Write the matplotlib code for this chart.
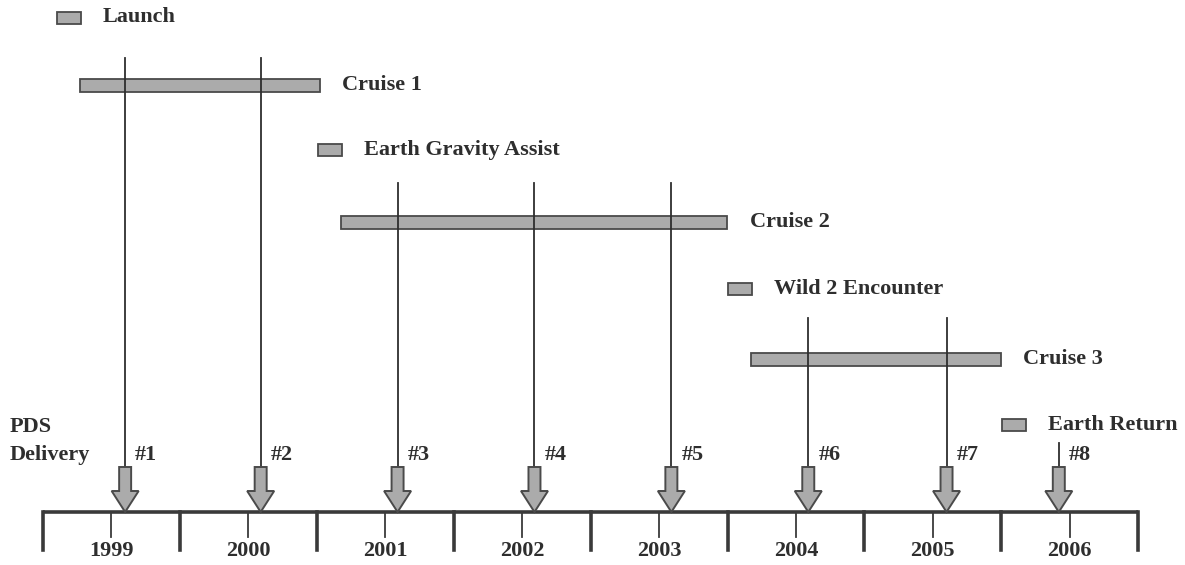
import matplotlib.pyplot as plt
from matplotlib.patches import Rectangle, Polygon

# data (years)
years = [1999, 2000, 2001, 2002, 2003, 2004, 2005, 2006]
cruise_names = ["Cruise 1", "Cruise 2", "Cruise 3"]
cruise_start = [1998.77, 2000.68, 2003.67]
cruise_end = [2000.52, 2003.50, 2005.50]
event_names = ["Launch", "Earth Gravity Assist", "Wild 2 Encounter", "Earth Return"]
event_dates = [1998.69, 2000.60, 2003.59, 2005.59]
delivery_labels = ["#1", "#2", "#3", "#4", "#5", "#6", "#7", "#8"]
delivery_dates = [1999.10, 2000.09, 2001.09, 2002.09, 2003.09, 2004.09, 2005.10, 2005.92]

# layout (pixel rows, top = 0)
cruise_y = [85.5, 222, 359]
event_y = [17.5, 150, 288.5, 425]
line_top = [58, 58, 183, 183, 183, 318, 318, 443]
axis_y = 512

px = 1 / 136.9   # one pixel in years
fill = "#ababab"
edge = "#4a4a4a"
ink = "#2e2e2e"
font = dict(family="Liberation Serif", weight="bold", size=16, color=ink)

fig = plt.figure(figsize=(11.85, 5.65), dpi=100)
ax = fig.add_axes([0, 0, 1, 1])
ax.set_xlim(1998.5 - 43 * px, 1998.5 + 1142 * px)
ax.set_ylim(565, 0)
ax.axis("off")

# cruise bars
for name, s, e, y in zip(cruise_names, cruise_start, cruise_end, cruise_y):
    ax.add_patch(Rectangle((s, y - 6.5), e - s, 13, facecolor=fill, edgecolor=edge, lw=1.3, zorder=2))
    ax.text(e + 22 * px, y, name, va="center", ha="left", **font)

# event markers
for name, d, y in zip(event_names, event_dates, event_y):
    w = 24 * px
    ax.add_patch(Rectangle((d - w / 2, y - 6), w, 12, facecolor=fill, edgecolor=edge, lw=1.3, zorder=2))
    ax.text(d + w / 2 + 22 * px, y, name, va="center", ha="left", **font)

# delivery arrows
for lab, d, top in zip(delivery_labels, delivery_dates, line_top):
    ax.plot([d, d], [top, 467], color=ink, lw=1.3, zorder=3)
    sw, hw = 6 * px, 13.5 * px
    pts = [(d - sw, 467), (d + sw, 467), (d + sw, 491), (d + hw, 491),
           (d, axis_y), (d - hw, 491), (d - sw, 491)]
    ax.add_patch(Polygon(pts, closed=True, facecolor=fill, edgecolor=edge, lw=1.4, zorder=4))
    ax.text(d + 10 * px, 455, lab, va="center", ha="left", **font)

# time axis
ax.plot([1998.5, 2006.5], [axis_y, axis_y], color="#3a3a3a", lw=2.6, solid_capstyle="butt", zorder=3)
for k in range(len(years) + 1):
    t = years[0] - 0.5 + k
    ax.plot([t, t], [axis_y, 550], color="#3a3a3a", lw=2.6, zorder=3)
for yr in years:
    ax.plot([yr, yr], [axis_y, 537], color="#3a3a3a", lw=1.3, zorder=3)
    ax.text(yr, 551, str(yr), ha="center", va="center", **font)

ax.text(10 * px + ax.get_xlim()[0], 427, "PDS", ha="left", va="center", **font)
ax.text(10 * px + ax.get_xlim()[0], 455, "Delivery", ha="left", va="center", **font)

fig.savefig("out.png", dpi=100, facecolor="white")
